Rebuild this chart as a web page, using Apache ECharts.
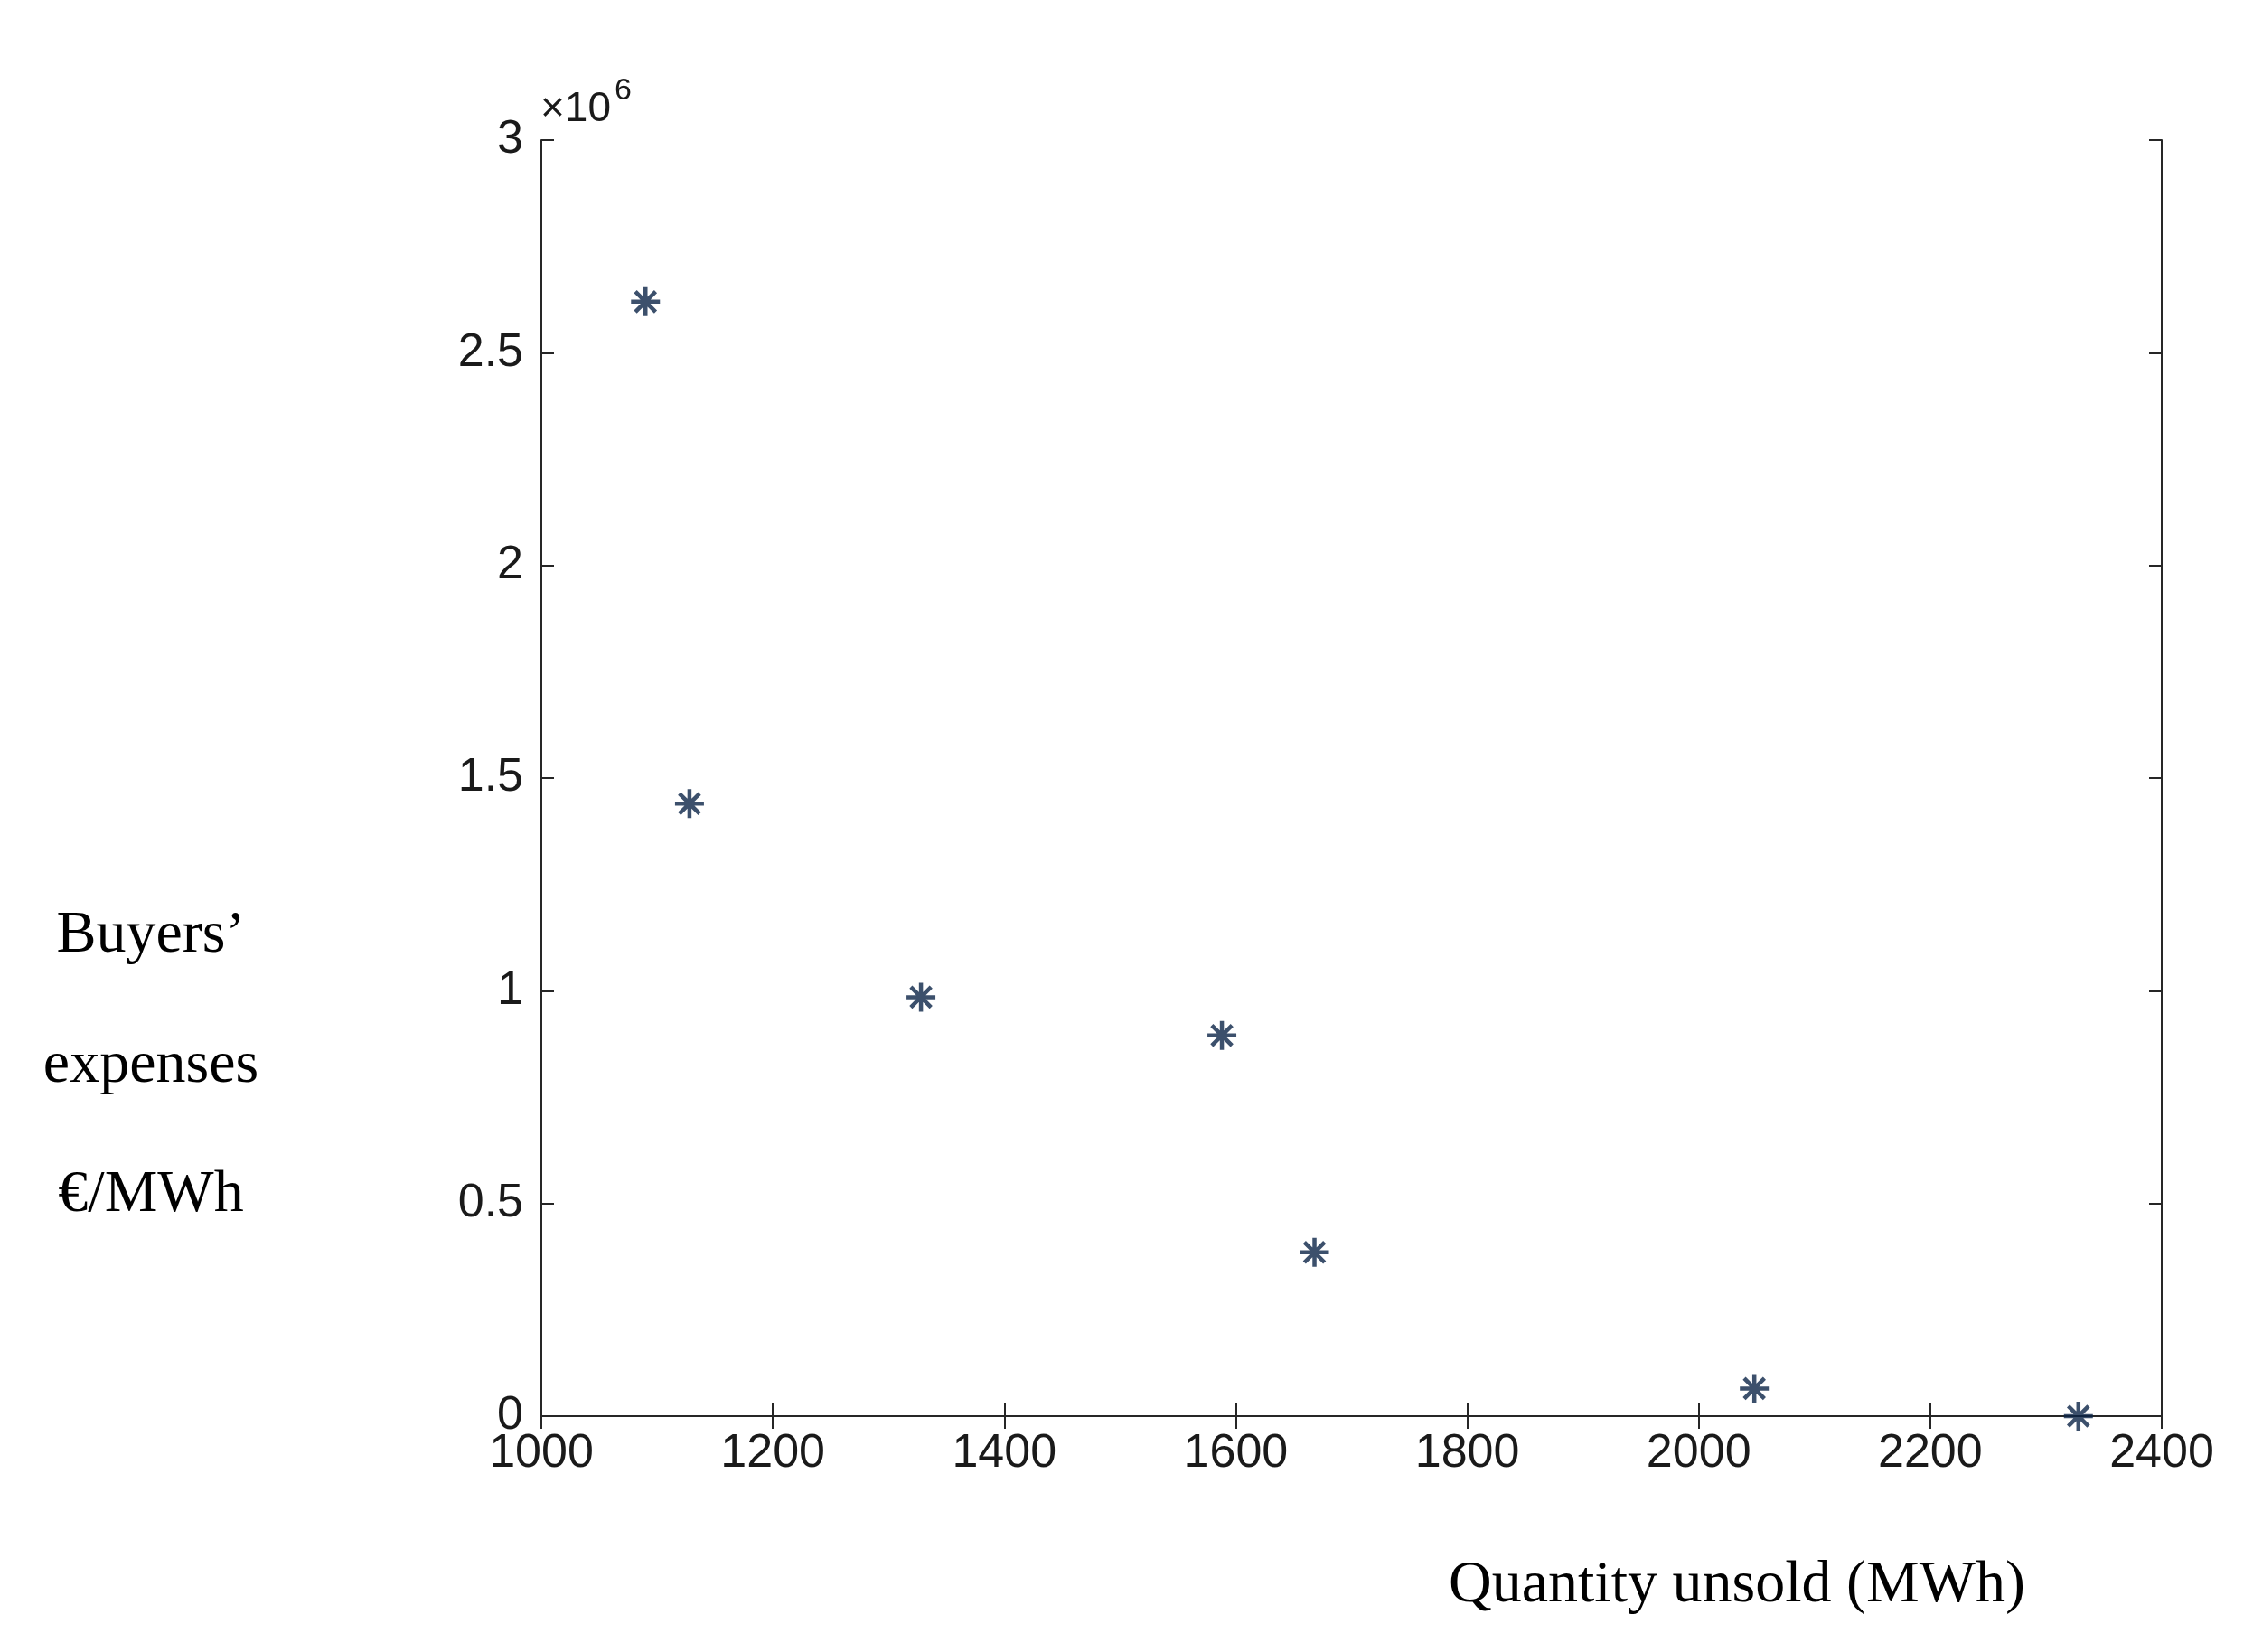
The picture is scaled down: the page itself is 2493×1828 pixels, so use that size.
<!DOCTYPE html>
<html><head><meta charset="utf-8">
<script src="https://cdn.jsdelivr.net/npm/echarts@6/dist/echarts.min.js"></script>
<style>html,body{margin:0;background:#fff}#c{width:2493px;height:1828px}</style>
</head><body><div id="c"></div>
<script>
const quantity = [1090, 1128, 1328, 1588, 1668, 2048, 2328];
const expenses = [2.62e6, 1.44e6, 0.985e6, 0.895e6, 0.385e6, 0.065e6, 0.0];
const xTicks = [1000, 2400, 200];
const yTicks = [0, 3, 0.5];

const chart = echarts.init(document.getElementById('c'));
const axisLine = {show: true, lineStyle: {color: '#262626', width: 2}};
const tickIn = {show: true, inside: true, length: 14, lineStyle: {color: '#262626', width: 2}};
const lab = {color: '#1a1a1a', fontSize: 52, fontFamily: 'Liberation Sans, Arial'};
const asterisk = 'path://M0,-10L0,10M-10,0L10,0M-7,-7L7,7M-7,7L7,-7';
chart.setOption({
  animation: false,
  grid: {left: 599, right: 2493 - 2392, top: 155, bottom: 1828 - 1567},
  xAxis: [
    {type: 'value', min: xTicks[0], max: xTicks[1], interval: xTicks[2], axisLine, axisTick: tickIn, splitLine: {show: false},
     axisLabel: Object.assign({margin: 16, formatter: v => String(v)}, lab)},
    {type: 'value', position: 'top', min: xTicks[0], max: xTicks[1], interval: xTicks[2], axisLine, axisTick: tickIn, splitLine: {show: false}, axisLabel: {show: false}}
  ],
  yAxis: [
    {type: 'value', min: yTicks[0], max: yTicks[1], interval: yTicks[2], axisLine, axisTick: tickIn, splitLine: {show: false},
     axisLabel: Object.assign({margin: 20, formatter: v => String(v)}, lab)},
    {type: 'value', position: 'right', min: yTicks[0], max: yTicks[1], interval: yTicks[2], axisLine, axisTick: tickIn, splitLine: {show: false}, axisLabel: {show: false}}
  ],
  graphic: [
    {type: 'text', left: 598, top: 98, style: {text: '×10', fill: '#1a1a1a', font: '46px Liberation Sans'}},
    {type: 'text', left: 680, top: 84, style: {text: '6', fill: '#1a1a1a', font: '34px Liberation Sans'}},
    {type: 'text', x: 167, y: 1036, style: {text: 'Buyers’', fill: '#000', font: '66px Liberation Serif', textAlign: 'center', textVerticalAlign: 'middle'}},
    {type: 'text', x: 167, y: 1180, style: {text: 'expenses', fill: '#000', font: '66px Liberation Serif', textAlign: 'center', textVerticalAlign: 'middle'}},
    {type: 'text', x: 167, y: 1323, style: {text: '€/MWh', fill: '#000', font: '66px Liberation Serif', textAlign: 'center', textVerticalAlign: 'middle'}},
    {type: 'text', x: 1922, y: 1755, style: {text: 'Quantity unsold (MWh)', fill: '#000', font: '66px Liberation Serif', textAlign: 'center', textVerticalAlign: 'middle'}}
  ],
  series: [{
    type: 'scatter',
    data: quantity.map((q, i) => [q, expenses[i] / 1e6]),
    symbol: asterisk, symbolSize: 32,
    itemStyle: {color: 'none', borderColor: '#0b2447', borderWidth: 4.5}
  }]
});
</script></body></html>
